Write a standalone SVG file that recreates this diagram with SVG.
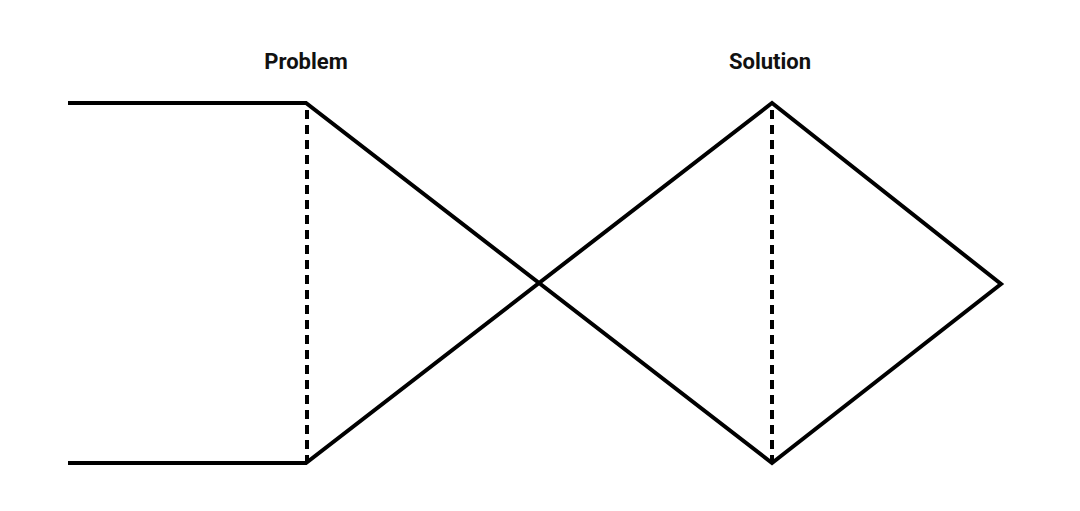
<svg xmlns="http://www.w3.org/2000/svg" width="1080" height="511" viewBox="0 0 1080 511">
<style>
.ln{fill:none;stroke:#000;stroke-width:4;stroke-linejoin:miter}
.ds{fill:none;stroke:#000;stroke-width:4;stroke-dasharray:9 6}
.lb{font-family:Roboto,"Liberation Sans",sans-serif;font-weight:bold;font-size:22px;fill:#111;text-anchor:middle}
</style>
<rect width="1080" height="511" fill="#fff"/>
<g id="labels">
<text class="lb" x="306" y="69">Problem</text>
<text class="lb" x="770" y="69">Solution</text>
</g>
<g id="connectors">
<polyline class="ln" points="68,103 306,103 772,463 1001,284 772,103 306,463 68,463"/>
<line class="ds" x1="307" y1="110" x2="307" y2="462"/>
<line class="ds" x1="772" y1="110" x2="772" y2="462"/>
</g>
</svg>
